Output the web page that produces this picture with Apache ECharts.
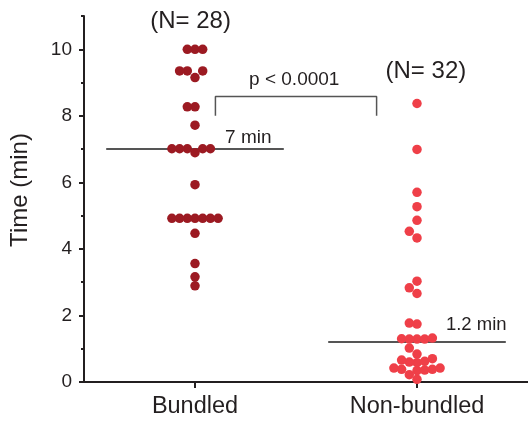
<!DOCTYPE html>
<html>
<head>
<meta charset="utf-8">
<style>
  html, body { margin: 0; padding: 0; background: #fff; }
  #main { width: 528px; height: 424px; }
</style>
<script src="https://cdn.jsdelivr.net/npm/echarts@6/dist/echarts.min.js"></script>
</head>
<body>
<div id="main"></div>
<script>
// categories and values
var groups = ['Bundled', 'Non-bundled'];
var bundled = [10, 10, 10, 9.35, 9.35, 9.35, 9.15, 8.27, 8.27, 7.72,
    7.01, 7.01, 7.01, 7.01, 7.01, 6.89, 5.93,
    4.92, 4.92, 4.92, 4.92, 4.92, 4.92, 4.92, 4.47, 3.56, 3.16, 2.89];
var nonBundled = [8.37, 6.99, 5.70, 5.27, 4.86, 4.53, 4.33, 3.03, 2.83, 2.66,
    1.77, 1.74, 1.32, 1.29, 1.29, 1.29, 1.30, 1.02, 0.84,
    0.66, 0.62, 0.58, 0.60, 0.70, 0.42, 0.38, 0.36, 0.34, 0.38, 0.42, 0.22, 0.08];
var medians = [7, 1.2];
var medianLabels = ['7 min', '1.2 min'];
var counts = ['(N= 28)', '(N= 32)'];
var pLabel = 'p < 0.0001';
var yTicks = [0, 2, 4, 6, 8, 10];

var FONT = '"Liberation Sans", Arial, sans-serif';
var TXT = '#231f20';
var chart = echarts.init(document.getElementById('main'));

var option = {
    animation: false,
    grid: { left: 76, right: -2, top: 16, bottom: 42 },
    xAxis: {
        type: 'value', min: 0, max: 2,
        axisLine: { lineStyle: { color: TXT, width: 2 } },
        axisTick: { customValues: [0.5, 1.5], length: 6, lineStyle: { color: TXT, width: 2 } },
        axisLabel: {
            customValues: [0.5, 1.5], margin: 13,
            fontSize: 23.5, fontFamily: FONT, color: TXT,
            formatter: function (v) { return groups[Math.round(v - 0.5)]; }
        },
        splitLine: { show: false }
    },
    yAxis: [{
        type: 'value', min: 0, max: 11,
        name: 'Time (min)', nameLocation: 'middle', nameGap: 52,
        nameTextStyle: { fontSize: 24, fontFamily: FONT, color: TXT, padding: [0, 0, 0, 18] },
        axisLine: { lineStyle: { color: TXT, width: 2 } },
        axisTick: { customValues: yTicks, length: 5, lineStyle: { color: TXT, width: 2 } },
        axisLabel: { customValues: yTicks, margin: 12, fontSize: 19, fontFamily: FONT, color: TXT },
        splitLine: { show: false }
    }, {
        // minor ticks every 1 min
        type: 'value', min: 0, max: 11, interval: 1, position: 'left',
        axisLine: { show: false },
        axisTick: { length: 3, lineStyle: { color: TXT, width: 2 } },
        axisLabel: { show: false },
        splitLine: { show: false }
    }],
    series: []
};
chart.setOption(option);

// simple beeswarm: spread equal-ish values sideways so dots don't overlap
function swarm(values, center) {
    var p0 = chart.convertToPixel({ gridIndex: 0 }, [center, 0]);
    var p1 = chart.convertToPixel({ gridIndex: 0 }, [center + 1, 1]);
    var pxX = p1[0] - p0[0], pxY = p0[1] - p1[1];
    var step = 7.7, minDist = 7.6;
    var placed = [];
    values.slice().sort(function (a, b) { return a - b; }).forEach(function (v) {
        var y = v * pxY;
        for (var i = 0; i < 40; i++) {
            var k = (i % 2 ? -1 : 1) * Math.ceil(i / 2);
            var x = k * step;
            var ok = placed.every(function (p) {
                return Math.hypot(p.x - x, p.y - y) >= minDist;
            });
            if (ok) { placed.push({ x: x, y: y, v: v }); break; }
        }
    });
    return placed.map(function (p) { return [center + p.x / pxX, p.v]; });
}

function medianLine(i) {
    return {
        type: 'line', symbol: 'none', silent: true, z: 1,
        lineStyle: { color: '#555', width: 2 },
        data: [[i + 0.1, medians[i]], [i + 0.9, medians[i]]]
    };
}

var series = [
    medianLine(0), medianLine(1),
    {
        type: 'scatter', symbolSize: 9.5, z: 4,
        itemStyle: { color: '#9c1a22', opacity: 1 },
        data: swarm(bundled, 0.5)
    },
    {
        type: 'scatter', symbolSize: 9.5, z: 4,
        itemStyle: { color: '#ef3f48', opacity: 1 },
        data: swarm(nonBundled, 1.5)
    },
    {
        // significance bracket
        type: 'line', symbol: 'none', silent: true,
        lineStyle: { color: '#555', width: 1.5 },
        data: [[0.592, 8.0], [0.592, 8.58], [1.318, 8.58], [1.318, 8.0]]
    }
];

function textAt(x, y, text, size) {
    var p = chart.convertToPixel({ gridIndex: 0 }, [x, y]);
    return {
        type: 'text', x: p[0], y: p[1],
        style: {
            text: text, fill: TXT, font: size + 'px ' + FONT,
            textAlign: 'center', textVerticalAlign: 'middle'
        }
    };
}

chart.setOption({
    series: series,
    graphic: [
        textAt(0.48, 10.83, counts[0], 24),
        textAt(1.54, 9.33, counts[1], 24),
        textAt(0.947, 9.08, pLabel, 19),
        textAt(0.74, 7.33, medianLabels[0], 19),
        textAt(1.767, 1.71, medianLabels[1], 18.5)
    ]
});
</script>
</body>
</html>
